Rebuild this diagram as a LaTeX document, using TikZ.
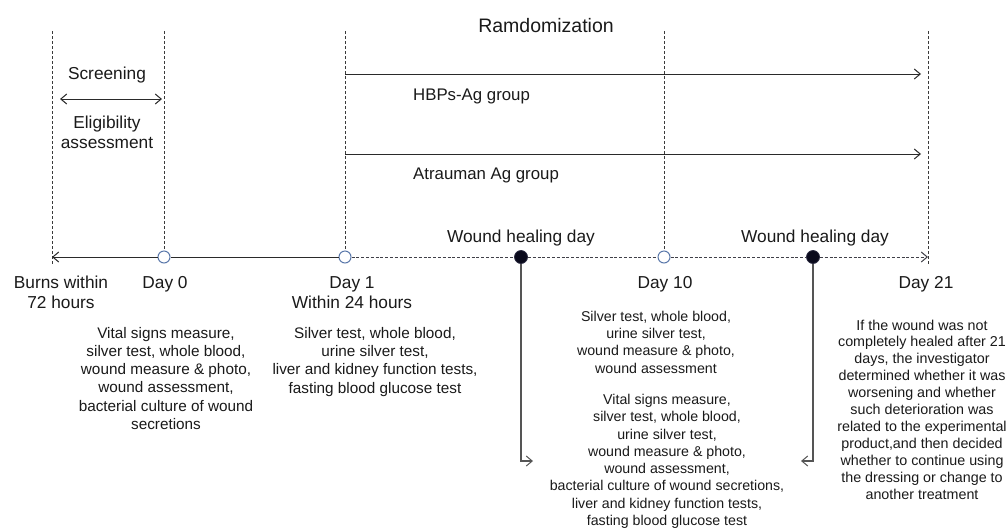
\documentclass[tikz,border=0pt]{standalone}
\usepackage{fontspec}
\setmainfont{Liberation Sans}
\usetikzlibrary{arrows.meta}
\definecolor{txt}{HTML}{1A1A1A}
\definecolor{vline}{HTML}{3A3A3A}
\definecolor{tline}{HTML}{404048}
\definecolor{sline}{HTML}{2A2A2A}
\definecolor{gline}{HTML}{555555}
\definecolor{cblue}{HTML}{5A78AA}
\definecolor{cdark}{HTML}{2A2A40}
\definecolor{cfill}{HTML}{0A0A1C}
\begin{document}
\begin{tikzpicture}[x=1pt,y=-1pt,
  lbl/.style={font=\fontsize{17.3}{20}\selectfont, text=txt, inner sep=0pt, anchor=base, align=center},
  bigl/.style={font=\fontsize{19.5}{22}\selectfont, text=txt, inner sep=0pt, anchor=base},
  grp/.style={font=\fontsize{16.8}{20}\selectfont, text=txt, inner sep=0pt, anchor=base west},
  smallA/.style={font=\fontsize{15.3}{18.3}\selectfont, text=txt, inner sep=0pt, anchor=base, align=center},
  smallB/.style={font=\fontsize{14.2}{17.3}\selectfont, text=txt, inner sep=0pt, anchor=base, align=center},
  smallC/.style={font=\fontsize{14.3}{16.9}\selectfont, text=txt, inner sep=0pt, anchor=base, align=center},
  vdash/.style={draw=vline, line width=0.8pt, dash pattern=on 3pt off 2pt},
  tdot/.style={draw=tline, line width=1pt, dash pattern=on 3pt off 1.8pt},
  solidl/.style={draw=sline, line width=1pt},
  grayl/.style={draw=gline, line width=1.2pt},
  barb/.style={-{Straight Barb[length=6pt,width=10pt,line width=1pt]}},
  barbboth/.style={{Straight Barb[length=6pt,width=10pt,line width=1pt]}-{Straight Barb[length=6pt,width=10pt,line width=1pt]}},
  openc/.style={circle, draw=cblue, fill=white, line width=1pt, minimum size=12pt, inner sep=0pt},
  fillc/.style={circle, draw=cdark, fill=cfill, line width=0.8pt, minimum size=13pt, inner sep=0pt}]
\useasboundingbox[fill=white] (0,0) rectangle (1008,528);

% timeline markers
\coordinate (tl) at (52,257);
\node[openc] (d0) at (164,257) {};
\node[openc] (d1) at (345,257) {};
\node[fillc] (w1) at (521,257) {};
\node[openc] (d10) at (664,257) {};
\node[fillc] (w2) at (813,257) {};
\coordinate (d21) at (928,257);

% vertical dashed guides
\coordinate (t0) at (52,31);  \coordinate (b0) at (52,265);
\coordinate (t1) at (164,31);
\coordinate (t2) at (345,31);
\coordinate (t3) at (664,31);
\coordinate (t4) at (928,31); \coordinate (b4) at (928,264);
\draw[vdash] (t0) -- (b0);
\draw[vdash] (t1) -- (d0.north);
\draw[vdash] (t2) -- (d1.north);
\draw[vdash] (t3) -- (d10.north);
\draw[vdash] (t4) -- (b4);

% timeline
\draw[solidl,barb] (d0.west) -- (tl);
\draw[solidl] (d1.west) -- (d0.east);
\draw[tdot] (d1.east) -- (w1.west);
\draw[tdot] (w1.east) -- (d10.west);
\draw[tdot] (d10.east) -- (w2.west);
\draw[tdot,barb] (w2.east) -- (d21);

% group arrows
\coordinate (g1s) at (345,74);  \coordinate (g1e) at (921,74);
\coordinate (g2s) at (345,154); \coordinate (g2e) at (921,154);
\draw[solidl,barb] (g1s) -- (g1e);
\draw[solidl,barb] (g2s) -- (g2e);

% screening arrow
\coordinate (s1) at (60,99); \coordinate (s2) at (162,99);
\draw[solidl,barbboth] (s1) -- (s2);

% wound healing day brackets
\coordinate (a1) at (533,461);
\coordinate (a2) at (801,461);
\draw[grayl,barb] (w1.south) |- (a1);
\draw[grayl,barb] (w2.south) |- (a2);

% labels
\node[bigl] (rand) at (546,32) {Ramdomization};
\node[lbl] (scr) at (107,79) {Screening};
\node[lbl] (elig) at (107,148) {Eligibility\\assessment};
\node[grp] (hbp) at (413,100) {HBPs-Ag group};
\node[grp] (atr) at (413,179) {Atrauman Ag group};
\node[lbl] (wh1) at (521,242) {Wound healing day};
\node[lbl] (wh2) at (815,242) {Wound healing day};
\node[lbl] (lburn) at (61,308) {Burns within\\72 hours};
\node[lbl] (l0) at (165,288) {Day 0};
\node[lbl] (l1) at (352,308) {Day 1\\Within 24 hours};
\node[lbl] (l10) at (665,288) {Day 10};
\node[lbl] (l21) at (926,288) {Day 21};

% text blocks
\node[smallA] (b0t) at (166,429.5) {Vital signs measure,\\silver test, whole blood,\\wound measure \& photo,\\wound assessment,\\bacterial culture of wound\\secretions};
\node[smallA] (b1t) at (375,393) {Silver test, whole blood,\\urine silver test,\\liver and kidney function tests,\\fasting blood glucose test};
\node[smallB] (b10t) at (656,373) {Silver test, whole blood,\\urine silver test,\\wound measure \& photo,\\wound assessment};
\node[smallB] (bwt) at (667,525.5) {Vital signs measure,\\silver test, whole blood,\\urine silver test,\\wound measure \& photo,\\wound assessment,\\bacterial culture of wound secretions,\\liver and kidney function tests,\\fasting blood glucose test};
\node[smallC] (b21t) at (922,499) {If the wound was not\\completely healed after 21\\days, the investigator\\determined whether it was\\worsening and whether\\such deterioration was\\related to the experimental\\product,and then decided\\whether to continue using\\the dressing or change to\\another treatment};
\end{tikzpicture}
\end{document}
